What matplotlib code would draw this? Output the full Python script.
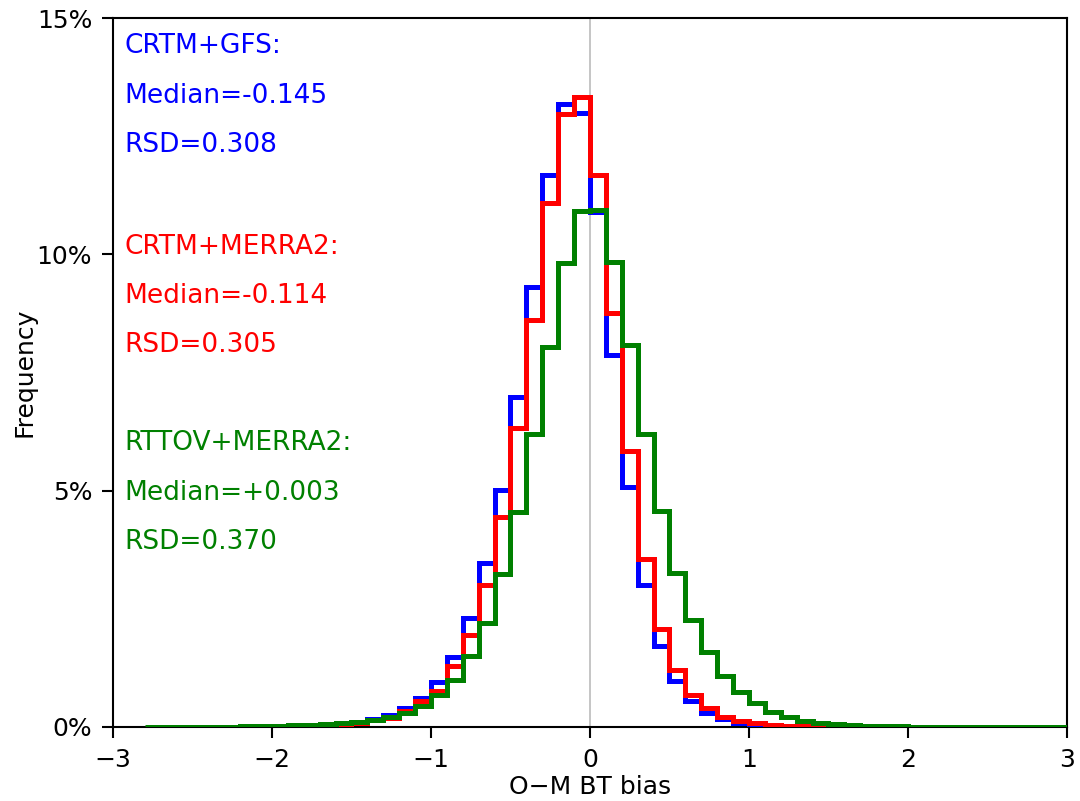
import numpy as np
import matplotlib
matplotlib.use("Agg")
import matplotlib.pyplot as plt
from matplotlib.ticker import PercentFormatter

# bin edges: -3 .. 3, width 0.1
edges = np.round(np.arange(-3.0, 3.0001, 0.1), 2)

# frequency (%) per bin
crtm_gfs = [0, 0, 0, 0, 0, 0, 0, 0, 0, 0,
            0.01, 0.02, 0.03, 0.05, 0.07,
            0.11, 0.17, 0.25, 0.40, 0.62, 0.96, 1.49, 2.30, 3.48, 5.01,
            6.99, 9.31, 11.68, 13.19, 13.00,
            10.90, 7.87, 5.07, 3.00, 1.72, 0.98, 0.54, 0.29, 0.16, 0.08,
            0.05, 0.03, 0.02, 0.01, 0.01,
            0, 0, 0, 0, 0, 0, 0, 0, 0, 0, 0, 0, 0, 0, 0]
crtm_merra2 = [0, 0, 0, 0, 0, 0, 0, 0, 0, 0,
               0.01, 0.02, 0.02, 0.04, 0.06,
               0.09, 0.14, 0.20, 0.33, 0.54, 0.77, 1.28, 1.95, 3.00, 4.45,
               6.32, 8.61, 11.08, 12.98, 13.33,
               11.69, 8.76, 5.85, 3.56, 2.07, 1.21, 0.68, 0.40, 0.22, 0.13,
               0.08, 0.05, 0.03, 0.02, 0.01,
               0, 0, 0, 0, 0, 0, 0, 0, 0, 0, 0, 0, 0, 0, 0]
rttov_merra2 = [0, 0, 0.005, 0.005, 0.01, 0.01, 0.01, 0.01, 0.02, 0.02,
                0.03, 0.04, 0.05, 0.07, 0.09,
                0.11, 0.15, 0.21, 0.30, 0.45, 0.68, 0.99, 1.50, 2.19, 3.24,
                4.55, 6.20, 8.05, 9.81, 10.92,
                10.95, 9.84, 8.08, 6.21, 4.56, 3.25, 2.26, 1.59, 1.08, 0.75,
                0.50, 0.32, 0.22, 0.13, 0.09,
                0.06, 0.04, 0.03, 0.02, 0.02, 0.01, 0.01, 0.01, 0.01, 0.005,
                0.005, 0.003, 0.003, 0.002, 0.002]

names = ["CRTM+GFS:", "CRTM+MERRA2:", "RTTOV+MERRA2:"]
medians = ["-0.145", "-0.114", "+0.003"]
rsds = ["0.308", "0.305", "0.370"]
colors = ["blue", "red", "green"]

fig = plt.figure(figsize=(10.8, 8.01), dpi=100)
ax = fig.add_axes([0.1046, 0.0924, 0.8833, 0.885])

ax.axvline(0, color="#bbbbbb", lw=1.2, zorder=0)
for vals, c in zip([crtm_gfs, crtm_merra2, rttov_merra2], colors):
    v = np.array(vals, dtype=float)
    nz = np.nonzero(v)[0]
    i0, i1 = nz[0], nz[-1] + 1
    ax.stairs(v[i0:i1], edges[i0:i1 + 1], color=c, lw=3.6, zorder=3)

# annotation baselines (% units)
text_y = [[14.26, 13.20, 12.16], [10.01, 8.97, 7.93], [5.86, 4.80, 3.77]]
for k in range(3):
    lines = [names[k], "Median=" + medians[k], "RSD=" + rsds[k]]
    for s, y in zip(lines, text_y[k]):
        ax.text(-2.93, y, s, color=colors[k], fontsize=19, va="baseline", ha="left")

ax.set_xlim(-3, 3)
ax.set_ylim(0, 15)
ax.set_xticks([-3, -2, -1, 0, 1, 2, 3])
ax.set_yticks([0, 5, 10, 15])
ax.yaxis.set_major_formatter(PercentFormatter(decimals=0))
ax.tick_params(labelsize=18, width=1.5, length=8, pad=7)
for sp in ax.spines.values():
    sp.set_linewidth(1.5)
ax.set_xlabel("O\u2212M BT bias", fontsize=18, labelpad=2)
ax.set_ylabel("Frequency", fontsize=18, labelpad=0)

fig.savefig("out.png", dpi=100)
